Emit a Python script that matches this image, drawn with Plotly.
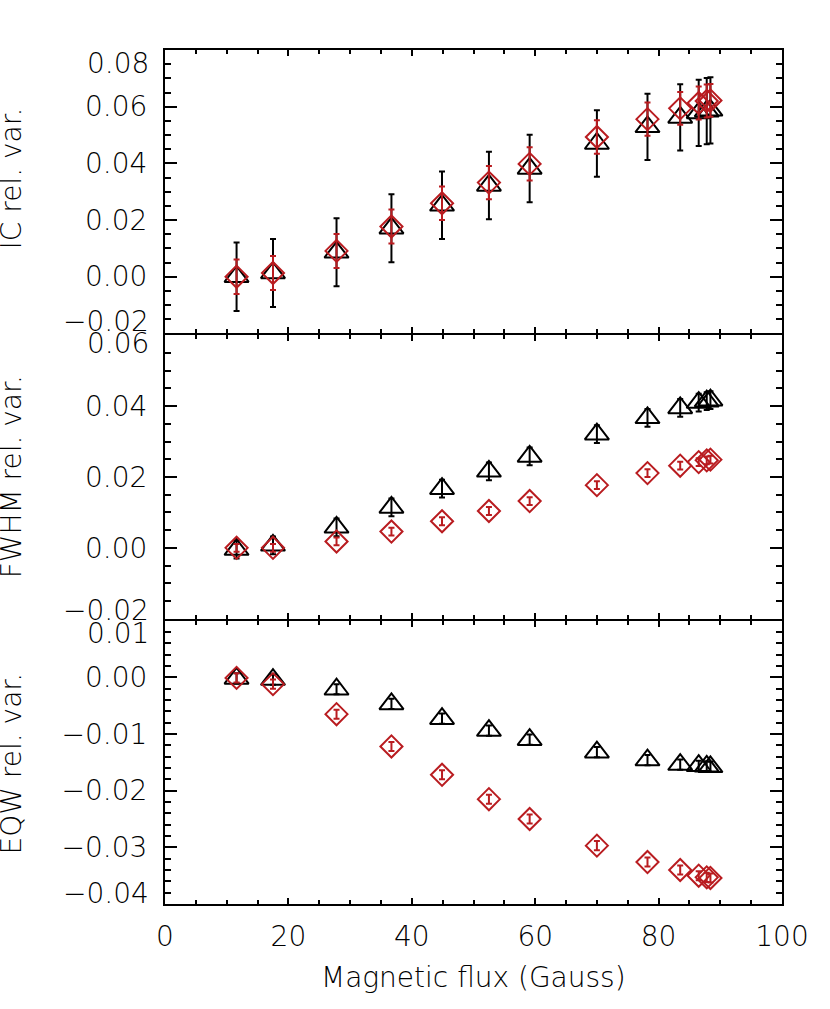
import plotly.graph_objects as go
from plotly.subplots import make_subplots

# ---- data ----
flux = [11.6, 17.5, 27.8, 36.7, 44.9, 52.5, 59.1, 70.0, 78.2, 83.5, 86.5, 87.8, 88.4]

ic_blk = [0.0, 0.0013, 0.0086, 0.0171, 0.0252, 0.0322, 0.0382, 0.047, 0.0529, 0.0562, 0.0578, 0.0584, 0.0587]
ic_blk_err = [0.0121, 0.012, 0.012, 0.012, 0.0119, 0.0119, 0.0119, 0.0117, 0.0117, 0.0117, 0.0117, 0.0117, 0.0117]
ic_red = [0.0, 0.0013, 0.0091, 0.0177, 0.0259, 0.0332, 0.0398, 0.0493, 0.0556, 0.0594, 0.0613, 0.062, 0.0622]
ic_red_err = [0.0061, 0.006, 0.006, 0.006, 0.0059, 0.0059, 0.0059, 0.0059, 0.0059, 0.0058, 0.0058, 0.0058, 0.0058]

fwhm_blk = [-0.0005, 0.0007, 0.0058, 0.0114, 0.0167, 0.0216, 0.0258, 0.0321, 0.0367, 0.0395, 0.041, 0.0414, 0.0417]
fwhm_blk_err = [0.0025] * 13
fwhm_red = [0.0, 0.0, 0.0018, 0.0046, 0.0075, 0.0104, 0.0132, 0.0177, 0.0211, 0.0232, 0.0242, 0.0247, 0.0249]
fwhm_red_err = [0.0011] * 13

eqw_blk = [-0.0002, -0.0004, -0.0021, -0.0047, -0.0073, -0.0094, -0.011, -0.0132, -0.0146, -0.0154, -0.0156, -0.0157, -0.0158]
eqw_blk_err = [0.0009] * 13
eqw_red = [-0.0001, -0.0012, -0.0065, -0.0122, -0.0172, -0.0215, -0.025, -0.0297, -0.0326, -0.034, -0.035, -0.0353, -0.0354]
eqw_red_err = [0.0008] * 13

x_ticks = [0, 20, 40, 60, 80, 100]
ic_ticks = [-0.02, 0.0, 0.02, 0.04, 0.06, 0.08]
fwhm_ticks = [-0.02, 0.0, 0.02, 0.04, 0.06]
eqw_ticks = [-0.04, -0.03, -0.02, -0.01, 0.0, 0.01]

titles = ["IC rel. var.", "FWHM rel. var.", "EQW rel. var."]
xtitle = "Magnetic flux (Gauss)"

BLACK = "black"
RED = "rgb(185,28,32)"
FONT = "DejaVu Sans"
FS = 28
PLOT_H = 854

fig = make_subplots(rows=3, cols=1, shared_xaxes=False, vertical_spacing=2 / PLOT_H)

panels = [
    (ic_blk, ic_blk_err, ic_red, ic_red_err, ic_ticks),
    (fwhm_blk, fwhm_blk_err, fwhm_red, fwhm_red_err, fwhm_ticks),
    (eqw_blk, eqw_blk_err, eqw_red, eqw_red_err, eqw_ticks),
]

for i, (yb, eb, yr, er, ticks) in enumerate(panels, start=1):
    fig.add_trace(go.Scatter(
        x=flux, y=yb, mode="markers",
        marker=dict(symbol="triangle-up-open", size=21, color=BLACK, line=dict(width=2, color=BLACK)),
        error_y=dict(type="data", array=eb, visible=True, color=BLACK, thickness=2, width=3),
        showlegend=False), row=i, col=1)
    fig.add_trace(go.Scatter(
        x=flux, y=yr, mode="markers",
        marker=dict(symbol="diamond-open", size=17, color=RED, line=dict(width=2, color=RED)),
        error_y=dict(type="data", array=er, visible=True, color=RED, thickness=2, width=3),
        showlegend=False), row=i, col=1)

tickfont = dict(family=FONT, size=FS, color="black", weight=300)

common_x = dict(range=[0, 100], tickvals=x_ticks, ticks="inside", ticklen=6, tickwidth=1.5,
                tickcolor="black", showline=True, linecolor="black", linewidth=2, mirror="ticks",
                showgrid=False, zeroline=False,
                minor=dict(dtick=5, ticks="inside", ticklen=4, tickwidth=1.5, tickcolor="black", showgrid=False),
                tickfont=tickfont)

for i in range(1, 4):
    xa = dict(common_x)
    if i < 3:
        xa["showticklabels"] = False
    else:
        xa["ticktext"] = [str(v) for v in x_ticks]
        xa["ticklabelstandoff"] = 6
    fig.update_xaxes(**xa, row=i, col=1)

def fmt(v):
    s = f"{abs(v):.2f}"
    return ("\u2212" + s) if v < 0 else s

ranges = [[-0.02, 0.08], [-0.02, 0.06], [-0.04, 0.01]]
minors = [0.005, 0.005, 0.002]
end_shift = [(13, 12), (8, 8), (13, 10)]
for i in range(1, 4):
    ticks = panels[i - 1][4]
    lo, hi = ranges[i - 1]
    text = [("" if (abs(v - lo) < 1e-9 or abs(v - hi) < 1e-9) else fmt(v)) for v in ticks]
    fig.update_yaxes(range=ranges[i - 1], tickvals=ticks, ticktext=text, ticks="inside", ticklen=12,
                     tickwidth=1.5, tickcolor="black", showline=True, linecolor="black", linewidth=2,
                     mirror="ticks", showgrid=False, zeroline=False, ticklabelstandoff=10,
                     minor=dict(dtick=minors[i - 1], ticks="inside", ticklen=6, tickwidth=1.5,
                                tickcolor="black", showgrid=False),
                     tickfont=tickfont,
                     row=i, col=1)
    yref = "y" if i == 1 else f"y{i}"
    dn, up = end_shift[i - 1]
    fig.add_annotation(xref="paper", yref=yref, x=0, y=hi, xshift=-14, yshift=-dn,
                       xanchor="right", yanchor="middle", showarrow=False, text=fmt(hi),
                       font=tickfont)
    fig.add_annotation(xref="paper", yref=yref, x=0, y=lo, xshift=-14, yshift=up,
                       xanchor="right", yanchor="middle", showarrow=False, text=fmt(lo),
                       font=tickfont)

# y titles
for t, yp in zip(titles, [0.850, 0.500, 0.165]):
    fig.add_annotation(xref="paper", yref="paper", x=-0.249, y=yp, xanchor="center", yanchor="middle",
                       textangle=-90, showarrow=False, text=t, font=tickfont)

fig.add_annotation(xref="paper", yref="paper", x=0.5, y=-0.0855, xanchor="center", yanchor="middle",
                   showarrow=False, text=xtitle, font=tickfont)

fig.update_layout(width=830, height=1009, margin=dict(l=165, r=48, t=50, b=105),
                  paper_bgcolor="white", plot_bgcolor="white")

# remove the default 8 px page margin so the figure sits at the window's top-left corner
fig.write_html("out.html", config={"displayModeBar": False},
               post_script="document.body.style.margin='0';")
